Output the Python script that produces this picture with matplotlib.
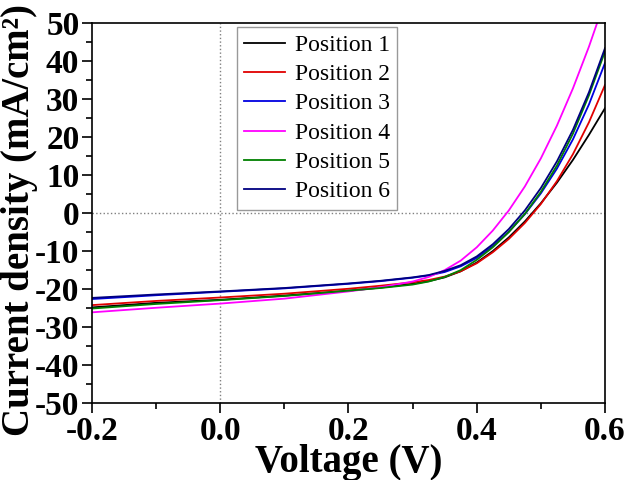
import matplotlib
matplotlib.use("Agg")
import matplotlib.pyplot as plt
from matplotlib.ticker import MultipleLocator

plt.rcParams['font.family'] = ['Liberation Serif', 'DejaVu Serif']
plt.rcParams['axes.unicode_minus'] = False

# Tension (V) et densités de courant (mA/cm²)
tension = [-0.2, -0.1, 0.0, 0.1, 0.2, 0.25, 0.3, 0.325, 0.35, 0.375, 0.4, 0.425, 0.45,
           0.475, 0.5, 0.525, 0.55, 0.575, 0.6]

pos1 = [-24.8, -23.6, -22.8, -21.7, -20.4, -19.6, -18.6, -17.9, -16.9, -15.3, -13.0, -10.0, -6.4,
        -2.2, 2.6, 8.0, 14.0, 20.6, 27.6]
pos2 = [-24.2, -23.1, -22.2, -21.2, -19.9, -19.1, -18.2, -17.6, -16.7, -15.3, -13.2, -10.3, -6.8,
        -2.6, 2.4, 8.4, 15.5, 23.9, 33.7]
pos3 = [-22.6, -21.6, -20.7, -19.8, -18.6, -17.9, -17.0, -16.4, -15.5, -14.0, -11.8, -8.7, -4.9,
        -0.3, 5.2, 11.7, 19.4, 28.6, 39.5]
pos4 = [-26.1, -24.9, -23.8, -22.5, -20.6, -19.5, -18.0, -16.8, -15.0, -12.5, -9.0, -4.6, 0.7,
        7.0, 14.4, 23.0, 32.8, 43.8, 56.0]
pos5 = [-25.1, -23.9, -22.9, -21.8, -20.4, -19.7, -18.8, -18.0, -16.8, -15.0, -12.3, -9.0, -5.0,
        -0.2, 5.6, 12.5, 20.9, 31.0, 42.5]
pos6 = [-22.3, -21.4, -20.6, -19.7, -18.5, -17.8, -16.9, -16.3, -15.2, -13.7, -11.4, -8.2, -4.2,
        0.7, 6.6, 13.6, 21.9, 31.8, 43.4]

series = [pos1, pos2, pos3, pos4, pos5, pos6]
noms = ["Position 1", "Position 2", "Position 3", "Position 4", "Position 5", "Position 6"]
couleurs = ["black", "#e00000", "#0000e0", "#ff00ff", "#008000", "#000080"]

fig = plt.figure(figsize=(6.25, 4.8), dpi=100)
ax = fig.add_axes([0.147, 0.160, 0.821, 0.792])

ax.axhline(0, color="gray", linestyle=":", linewidth=1.0)
ax.axvline(0, color="gray", linestyle=":", linewidth=1.0)

for j, nom, c in zip(series, noms, couleurs):
    ax.plot(tension, j, color=c, linewidth=1.3, label=nom)

ax.set_xlim(-0.2, 0.6)
ax.set_ylim(-50, 50)
ax.xaxis.set_minor_locator(MultipleLocator(0.1))
ax.yaxis.set_major_locator(MultipleLocator(10))
ax.yaxis.set_minor_locator(MultipleLocator(5))
ax.tick_params(which="major", direction="out", length=7, width=1.2, labelsize=24, pad=2)
ax.tick_params(which="minor", direction="out", length=4, width=1.2)
ax.tick_params(top=False, right=False)
ax.set_xticks([-0.2, 0.0, 0.2, 0.4, 0.6])
ax.set_xticklabels(["-0.2", "0.0", "0.2", "0.4", "0.6"])
for lab in ax.get_xticklabels() + ax.get_yticklabels():
    lab.set_fontweight("bold")
for s in ax.spines.values():
    s.set_linewidth(1.2)

ax.set_xlabel("Voltage (V)", fontsize=28, fontweight="bold", labelpad=-2)
ax.set_ylabel("Current density (mA/cm²)", fontsize=28, fontweight="bold")
ax.yaxis.set_label_coords(-0.105, 0.482)

leg = ax.legend(loc="upper left", bbox_to_anchor=(0.283, 0.989), fontsize=17,
                frameon=True, fancybox=False, edgecolor="gray", handlelength=1.75,
                handletextpad=0.4, labelspacing=0.33, borderpad=0.3, borderaxespad=0)
leg.get_frame().set_linewidth(1.0)

fig.savefig("out.png", dpi=100)
